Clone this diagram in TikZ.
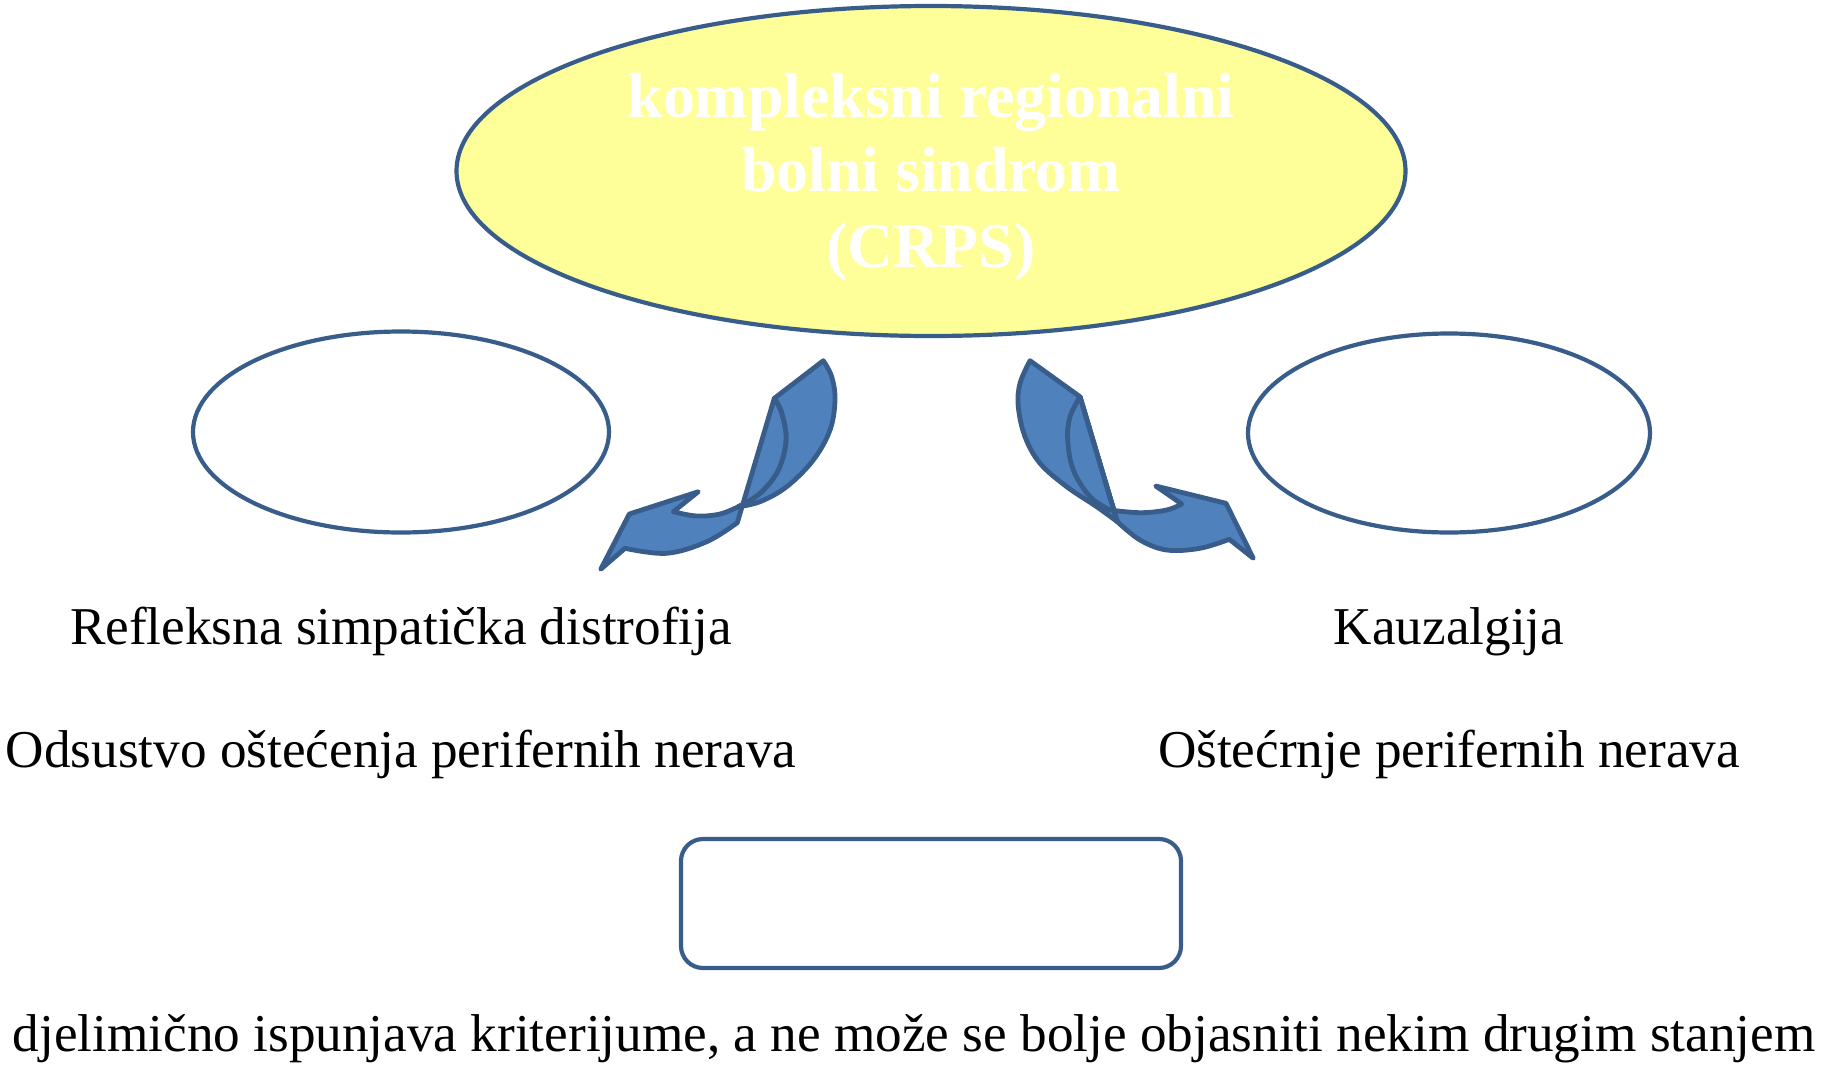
\documentclass[tikz,border=0pt]{standalone}
\usepackage{fontspec}
\setmainfont{Liberation Serif}
\usetikzlibrary{shapes.geometric}
\definecolor{edgeblue}{RGB}{56,93,138}
\definecolor{fillblue}{RGB}{79,129,189}
\definecolor{ylw}{RGB}{255,255,153}
\tikzset{
  big/.style={ellipse, draw=edgeblue, line width=2.1pt, fill=ylw, minimum width=949\unitpx, minimum height=330\unitpx, inner sep=0pt},
  side/.style={ellipse, draw=edgeblue, line width=2.1pt, fill=white, inner sep=0pt},
  boxr/.style={draw=edgeblue, line width=2.1pt, rounded corners=11pt, fill=white, minimum width=500\unitpx, minimum height=129\unitpx},
  arr/.style={draw=edgeblue, fill=fillblue, line width=2.4pt, line join=round},
  lbl/.style={anchor=base, inner sep=0pt, font=\fontsize{26.6}{32}\selectfont},
  ttl/.style={anchor=base, inner sep=0pt, text=white, font=\fontsize{31.9}{38}\selectfont\bfseries},
}
\newlength{\unitpx}\setlength{\unitpx}{0.5pt}
\begin{document}
\begin{tikzpicture}[x=0.5pt,y=-0.5pt]
\useasboundingbox (0,0) rectangle (1837,1071);
\node[big] (crps) at (931,171) {};
\node[ttl] (t1) at (931,117) {kompleksni regionalni};
\node[ttl] (t2) at (931,191) {bolni sindrom};
\node[ttl] (t3) at (931,267) {(CRPS)};
\node[side, minimum width=416\unitpx, minimum height=201\unitpx] (rsd) at (401,432) {};
\node[side, minimum width=402\unitpx, minimum height=199\unitpx] (kau) at (1449,433) {};
\node[boxr] (part) at (931,903.5) {};
% left curved arrow
\path[arr] (823.3,360.7) plot[smooth, tension=0.6] coordinates {(823.3,360.7) (831.7,376.7) (835,400) (830,430) (813.3,460) (786.7,486.7) (760,501.7) (738.3,506.7)}
  -- plot[smooth, tension=0.6] coordinates {(738.3,506.7) (760,493.3) (778.3,470) (786,440) (781.7,413.3) (774.3,398.3)} -- cycle;
\path[arr] (774.3,398.3) -- (737.3,522.7)
  -- plot[smooth, tension=0.6] coordinates {(737.3,522.7) (706.7,541.7) (666.7,553.3) (625,548.3)}
  -- (600.7,569.3) -- (629.3,514) -- (698.3,491.7) -- (673.3,511.7)
  -- plot[smooth, tension=0.6] coordinates {(673.3,511.7) (696.7,516) (720,514) (738.3,506.7)}
  -- plot[smooth, tension=0.6] coordinates {(738.3,506.7) (760,493.3) (778.3,470) (786,440) (781.7,413.3) (774.3,398.3)} -- cycle;
% right curved arrow
\path[arr] (1030,360.7) plot[smooth, tension=0.6] coordinates {(1030,360.7) (1020,383.3) (1018.3,406.7) (1025,436.7) (1040,463.3) (1066.7,486.7) (1096.7,506.7) (1117.3,521.7)}
  -- (1080,396.7) -- cycle;
\path[arr] (1080,396.7) plot[smooth, tension=0.6] coordinates {(1080,396.7) (1070,416.7) (1067.7,440) (1073.3,470) (1090,496.7) (1110,510)}
  -- plot[smooth, tension=0.6] coordinates {(1110,510) (1140,512.7) (1166.7,510) (1181.7,504)}
  -- (1155.7,486) -- (1226,503.3) -- (1253.3,558.3) -- (1229.3,539.3)
  -- plot[smooth, tension=0.6] coordinates {(1229.3,539.3) (1200,548.3) (1166.7,550) (1140,540) (1117.3,521.7)}
  -- cycle;
\draw[edgeblue, line width=2.4pt] (1080,396.7) -- (1117.3,521.7);
% labels
\node[lbl] (l1) at (401,644) {Refleksna simpatička distrofija};
\node[lbl] (l2) at (1449,644) {Kauzalgija};
\node[lbl] (l3) at (401,767) {Odsustvo oštećenja perifernih nerava};
\node[lbl] (l4) at (1449,767) {Oštećrnje perifernih nerava};
\node[lbl] (l5) at (914,1051) {djelimično ispunjava kriterijume, a ne može se bolje objasniti nekim drugim stanjem};
\end{tikzpicture}
\end{document}
